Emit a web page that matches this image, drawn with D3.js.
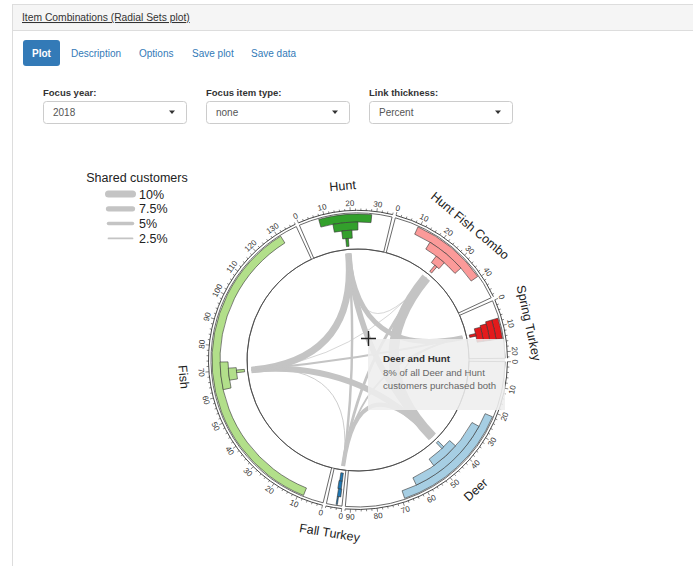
<!DOCTYPE html>
<html>
<head>
<meta charset="utf-8">
<title>Item Combinations (Radial Sets plot)</title>
<script src="https://cdn.jsdelivr.net/npm/d3@7/dist/d3.min.js"></script>
<style>
  html, body { margin: 0; padding: 0; background: #fff; overflow: hidden; }
  svg { display: block; }
  text { font-family: "Liberation Sans", Arial, Helvetica, sans-serif; }
</style>
</head>
<body>
<div id="page"></div>
<script>
// Sets, clockwise from the top
var setNames = ["Hunt", "Hunt Fish Combo", "Spring Turkey", "Deer", "Fall Turkey", "Fish"];
var setMax = [36, 49, 22.5, 92, 6, 138];
// nested ranges per set, outermost ring first
var setBars = [
    [[7.7, 28.2], [12.7, 22.9], [15.9, 20.3]],
    [[9.3, 39.4], [16.3, 32.7], [21.7, 26.2]],
    [[6.9, 14.9], [6.9, 14.9], [7.8, 14.9], [8.5, 14.9]],
    [[21.7, 69], [27.4, 62.8], [39.7, 52.4]],
    [[1.8, 2.3], [0.9, 2.3], [1.1, 2.6]],
    [[8, 131], [62.3, 73.6], [65.7, 70.9]]
];
var setMedian = [17.9, 24.3, 11.4, 44.2, 1.7, 69.2];

// shared customers between two sets, percent
var links = [
    ["Hunt Fish Combo", "Deer", 14],
    ["Hunt", "Fish", 9.5],
    ["Deer", "Fish", 8.5],
    ["Deer", "Hunt", 8],
    ["Hunt", "Spring Turkey", 7],
    ["Fall Turkey", "Deer", 6],
    ["Fall Turkey", "Hunt Fish Combo", 4],
    ["Hunt", "Fall Turkey", 3.5],
    ["Fish", "Spring Turkey", 3],
    ["Fall Turkey", "Spring Turkey", 2.5],
    ["Spring Turkey", "Deer", 2],
    ["Fish", "Fall Turkey", 1.2],
    ["Fish", "Hunt Fish Combo", 1],
    ["Hunt", "Hunt Fish Combo", 1]
];

var legendValues = [10, 7.5, 5, 2.5];
var tabs = ["Plot", "Description", "Options", "Save plot", "Save data"];
var selectLabels = ["Focus year:", "Focus item type:", "Link thickness:"];
var selectValues = ["2018", "none", "Percent"];
var tooltipTitle = "Deer and Hunt";
var tooltipLines = ["8% of all Deer and Hunt", "customers purchased both"];

function init() {
    var w = 693;
    var h = 566;

    var svg = d3.select("#page")
        .append("svg")
        .attr("width", w)
        .attr("height", h);

    // ---- page chrome ----
    svg.append("rect")
        .attr("x", 12.5).attr("y", 4.5)
        .attr("width", 720).attr("height", 26)
        .attr("fill", "#f5f5f5").attr("stroke", "#ddd");
    svg.append("line")
        .attr("x1", 12.5).attr("x2", 12.5)
        .attr("y1", 30).attr("y2", h)
        .attr("stroke", "#ddd");
    svg.append("text")
        .attr("x", 22).attr("y", 21)
        .attr("font-size", "10.3px").attr("fill", "#333")
        .attr("text-decoration", "underline")
        .text("Item Combinations (Radial Sets plot)");

    var tabX = [32, 71, 139, 192, 251];
    svg.append("rect")
        .attr("x", 23).attr("y", 40)
        .attr("width", 37).attr("height", 26).attr("rx", 3)
        .attr("fill", "#337ab7");
    svg.selectAll(".tab")
        .data(tabs)
        .enter()
        .append("text")
        .attr("class", "tab")
        .attr("x", function (d, i) { return tabX[i]; })
        .attr("y", 56.5)
        .attr("font-size", "10px")
        .attr("font-weight", function (d, i) { return i === 0 ? "bold" : "normal"; })
        .attr("fill", function (d, i) { return i === 0 ? "#fff" : "#337ab7"; })
        .text(function (d) { return d; });

    var selX = [43, 206, 369];
    var sel = svg.selectAll(".sel")
        .data(selectLabels)
        .enter()
        .append("g")
        .attr("class", "sel")
        .attr("transform", function (d, i) { return "translate(" + selX[i] + ",0)"; });
    sel.append("text")
        .attr("y", 95.5)
        .attr("font-size", "9.5px").attr("font-weight", "bold").attr("fill", "#333")
        .text(function (d) { return d; });
    sel.append("rect")
        .attr("x", 0.5).attr("y", 101.5)
        .attr("width", 143).attr("height", 22).attr("rx", 3)
        .attr("fill", "#fff").attr("stroke", "#ccc");
    sel.append("text")
        .attr("x", 10).attr("y", 116)
        .attr("font-size", "10px").attr("fill", "#555")
        .text(function (d, i) { return selectValues[i]; });
    sel.append("path")
        .attr("d", "M126,110.5L132,110.5L129,114Z")
        .attr("fill", "#333");

    // ---- radial sets ----
    var cx = 358, cy = 360;
    var rLink = 107, rInner = 111, rOuter = 147, rAxis = 149.5;
    var rBarIn = 114, rBarOut = 146, rTick = 157, rLabel = 175;
    var gapDeg = 1.32, startDeg = -23.5;
    var rad = Math.PI / 180;
    var degPerUnit = (360 - gapDeg * setNames.length) / d3.sum(setMax);

    var color = d3.scaleOrdinal()
        .domain(setNames.slice().sort())
        .range(d3.schemePaired);

    var sets = [];
    var a = startDeg;
    setNames.forEach(function (name, i) {
        var s = {
            name: name, max: setMax[i], bars: setBars[i], median: setMedian[i],
            start: a, end: a + setMax[i] * degPerUnit
        };
        // value -> compass angle in degrees
        s.scale = d3.scaleLinear().domain([0, s.max]).range([s.start, s.end]);
        sets.push(s);
        a = s.end + gapDeg;
    });
    var byName = {};
    sets.forEach(function (s) { byName[s.name] = s; });

    function pt(r, deg) {
        return [r * Math.sin(deg * rad), -r * Math.cos(deg * rad)];
    }
    function flip(deg) {
        var d = (deg + 360) % 360;
        return (d > 90 && d < 270) ? d - 180 : d;
    }

    var g = svg.append("g")
        .attr("transform", "translate(" + cx + "," + cy + ")");
    var arc = d3.arc();

    // set wedges
    g.selectAll(".wedge")
        .data(sets)
        .enter()
        .append("path")
        .attr("class", "wedge")
        .attr("d", function (d) {
            return arc({ innerRadius: rInner, outerRadius: rOuter, startAngle: d.start * rad, endAngle: d.end * rad });
        })
        .attr("fill", "#fff")
        .attr("stroke", "#444")
        .attr("stroke-width", 0.8);

    g.append("circle")
        .attr("r", rInner)
        .attr("fill", "none")
        .attr("stroke", "#444")
        .attr("stroke-width", 0.8);

    // links
    var widthScale = d3.scaleLinear().domain([0, 10]).range([0, 7]);
    function anchor(s) { return pt(rLink, s.scale(s.median)); }
    g.selectAll(".link")
        .data(links)
        .enter()
        .append("path")
        .attr("class", "link")
        .attr("d", function (d) {
            var p = anchor(byName[d[0]]);
            var q = anchor(byName[d[1]]);
            return "M" + p[0] + "," + p[1] + "Q0,0 " + q[0] + "," + q[1];
        })
        .attr("fill", "none")
        .attr("stroke", "#c4c4c4")
        .attr("stroke-width", function (d) { return widthScale(d[2]); });

    // nested bars per set
    sets.forEach(function (s) {
        var n = s.bars.length;
        var t = (rBarOut - rBarIn) / (n + 1);
        var sg = g.append("g");
        sg.selectAll(".bar")
            .data(s.bars)
            .enter()
            .append("path")
            .attr("d", function (d, i) {
                return arc({
                    innerRadius: rBarOut - (i + 1) * t,
                    outerRadius: rBarOut - i * t,
                    startAngle: s.scale(d[0]) * rad,
                    endAngle: s.scale(d[1]) * rad
                });
            })
            .attr("fill", color(s.name))
            .attr("stroke", "#333")
            .attr("stroke-width", 0.6);
        var mid = s.scale(s.median) * rad;
        var half = 1.3 / (rBarIn + t / 2);
        sg.append("path")
            .attr("d", arc({ innerRadius: rBarIn, outerRadius: rBarIn + t, startAngle: mid - half, endAngle: mid + half }))
            .attr("fill", color(s.name))
            .attr("stroke", "#333")
            .attr("stroke-width", 0.6);
    });

    // axes
    sets.forEach(function (s) {
        var ag = g.append("g");
        var p = d3.path();
        var p0 = pt(rAxis, s.start);
        p.moveTo(p0[0], p0[1]);
        p.arc(0, 0, rAxis, (s.start - 90) * rad, (s.end - 90) * rad);
        ag.append("path")
            .attr("d", p.toString())
            .attr("fill", "none")
            .attr("stroke", "#333")
            .attr("stroke-width", 0.9);

        var minor = d3.range(0, s.max + 0.001, 2);
        ag.selectAll(".tick")
            .data(minor)
            .enter()
            .append("line")
            .attr("x1", function (d) { return pt(rAxis, s.scale(d))[0]; })
            .attr("y1", function (d) { return pt(rAxis, s.scale(d))[1]; })
            .attr("x2", function (d) { return pt(rAxis + (d % 10 === 0 ? 3.5 : 2), s.scale(d))[0]; })
            .attr("y2", function (d) { return pt(rAxis + (d % 10 === 0 ? 3.5 : 2), s.scale(d))[1]; })
            .attr("stroke", "#333")
            .attr("stroke-width", 0.6);

        var major = d3.range(0, s.max + 0.001, 10);
        ag.selectAll(".tlabel")
            .data(major)
            .enter()
            .append("text")
            .attr("transform", function (d) {
                var deg = s.scale(d);
                var q = pt(rTick, deg);
                return "translate(" + q[0] + "," + q[1] + ") rotate(" + flip(deg) + ")";
            })
            .attr("text-anchor", "middle")
            .attr("dy", "0.35em")
            .attr("font-size", "8px")
            .attr("fill", "#333")
            .text(function (d) { return d; });
    });

    // set names
    g.selectAll(".setlabel")
        .data(sets)
        .enter()
        .append("text")
        .attr("transform", function (d) {
            var deg = (d.start + d.end) / 2;
            var q = pt(rLabel, deg);
            return "translate(" + q[0] + "," + q[1] + ") rotate(" + flip(deg) + ")";
        })
        .attr("text-anchor", "middle")
        .attr("dy", "0.35em")
        .attr("font-size", "12.5px")
        .attr("fill", "#222")
        .text(function (d) { return d.name; });

    // legend
    var lg = svg.append("g");
    lg.append("text")
        .attr("x", 137).attr("y", 181.5)
        .attr("text-anchor", "middle")
        .attr("font-size", "12.5px").attr("fill", "#222")
        .text("Shared customers");
    var item = lg.selectAll(".item")
        .data(legendValues)
        .enter()
        .append("g")
        .attr("transform", function (d, i) { return "translate(0," + (194 + i * 14.8) + ")"; });
    item.append("line")
        .attr("x1", 108.5).attr("x2", 132.5)
        .attr("stroke", "#c4c4c4")
        .attr("stroke-linecap", "round")
        .attr("stroke-width", function (d) { return widthScale(d); });
    item.append("text")
        .attr("x", 139).attr("y", 4.5)
        .attr("font-size", "12.5px").attr("fill", "#222")
        .text(function (d) { return d + "%"; });

    // tooltip of the hovered link
    var tip = svg.append("g").attr("transform", "translate(368,339)");
    tip.append("rect")
        .attr("width", 137).attr("height", 71)
        .attr("fill", "#eeeeee").attr("fill-opacity", 0.87);
    tip.append("text")
        .attr("x", 15).attr("y", 22.5)
        .attr("font-size", "9.8px").attr("font-weight", "bold").attr("fill", "#333")
        .text(tooltipTitle);
    tip.selectAll(".tl")
        .data(tooltipLines)
        .enter()
        .append("text")
        .attr("x", 15)
        .attr("y", function (d, i) { return 36.5 + i * 13; })
        .attr("font-size", "9.6px").attr("fill", "#666")
        .text(function (d) { return d; });

    // mouse cursor
    svg.append("path")
        .attr("d", "M361,338.5H376M368.5,331V346")
        .attr("stroke", "#222")
        .attr("stroke-width", 1.4);
}

window.onload = init;
</script>
</body>
</html>
